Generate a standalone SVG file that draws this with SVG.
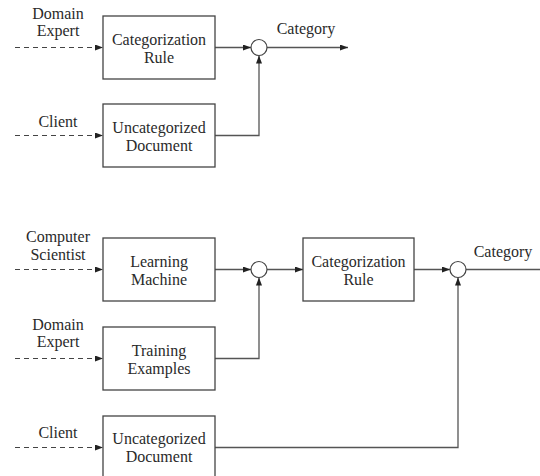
<svg xmlns="http://www.w3.org/2000/svg" width="540" height="476" viewBox="0 0 540 476">
<defs>
<marker id="ah" viewBox="0 0 8 6" refX="8" refY="3" markerWidth="8" markerHeight="6" markerUnits="userSpaceOnUse" orient="auto">
<path d="M0,0 L8,3 L0,6 Z" fill="#222"/>
</marker>
</defs>
<style>
.box{fill:#fff;stroke:#444;stroke-width:1.3}
.sum{fill:#fff;stroke:#444;stroke-width:1.2}
.ln{fill:none;stroke:#555;stroke-width:1.3}
.dash{fill:none;stroke:#444;stroke-width:1.2;stroke-dasharray:5 4}
text{font-family:"Liberation Serif","DejaVu Serif",serif;font-size:16px;fill:#2a2a2a;text-anchor:middle}
</style>
<rect width="540" height="476" fill="#fff"/>
<g id="connectors">
<path class="dash" d="M15,47.5 H103" marker-end="url(#ah)"/>
<path class="dash" d="M15,135.5 H103" marker-end="url(#ah)"/>
<path class="ln" d="M215,47.5 H251" marker-end="url(#ah)"/>
<path class="ln" d="M215,135.5 H259 V55.5" marker-end="url(#ah)"/>
<path class="ln" d="M267,47.5 H348" marker-end="url(#ah)"/>
<path class="dash" d="M15,269.5 H103" marker-end="url(#ah)"/>
<path class="dash" d="M15,358.5 H103" marker-end="url(#ah)"/>
<path class="dash" d="M15,447.5 H103" marker-end="url(#ah)"/>
<path class="ln" d="M215,269.5 H251" marker-end="url(#ah)"/>
<path class="ln" d="M215,358.5 H259 V277.5" marker-end="url(#ah)"/>
<path class="ln" d="M267,269.5 H303" marker-end="url(#ah)"/>
<path class="ln" d="M414,269.5 H450" marker-end="url(#ah)"/>
<path class="ln" d="M215,447.5 H458 V277.5" marker-end="url(#ah)"/>
<path class="ln" d="M466,269.5 H541"/>
</g>
<g id="lbl-domain-expert-1"><text x="58" y="19">Domain</text><text x="58" y="36">Expert</text></g>
<g id="lbl-client-1"><text x="58" y="127">Client</text></g>
<g id="rule-1"><rect class="box" x="103" y="16" width="112" height="63"/><text x="159" y="45">Categorization</text><text x="159" y="63">Rule</text></g>
<g id="doc-1"><rect class="box" x="103" y="104" width="112" height="63"/><text x="159" y="133">Uncategorized</text><text x="159" y="151">Document</text></g>
<g id="sum-1"><circle class="sum" cx="259" cy="47.5" r="8"/></g>
<g id="lbl-category-1"><text x="306" y="34">Category</text></g>
<g id="lbl-computer-scientist"><text x="58" y="242">Computer</text><text x="58" y="260">Scientist</text></g>
<g id="lbl-domain-expert-2"><text x="58" y="330">Domain</text><text x="58" y="347">Expert</text></g>
<g id="lbl-client-2"><text x="58" y="438">Client</text></g>
<g id="learning-machine"><rect class="box" x="103" y="238" width="112" height="63"/><text x="159" y="267">Learning</text><text x="159" y="285">Machine</text></g>
<g id="training-examples"><rect class="box" x="103" y="327" width="112" height="63"/><text x="159" y="356">Training</text><text x="159" y="374">Examples</text></g>
<g id="doc-2"><rect class="box" x="103" y="416" width="112" height="63"/><text x="159" y="444">Uncategorized</text><text x="159" y="462">Document</text></g>
<g id="sum-2"><circle class="sum" cx="259" cy="269.5" r="8"/></g>
<g id="rule-2"><rect class="box" x="303" y="238" width="111" height="63"/><text x="358.5" y="267">Categorization</text><text x="358.5" y="285">Rule</text></g>
<g id="sum-3"><circle class="sum" cx="458" cy="269.5" r="8"/></g>
<g id="lbl-category-2"><text x="503" y="257">Category</text></g>
</svg>
